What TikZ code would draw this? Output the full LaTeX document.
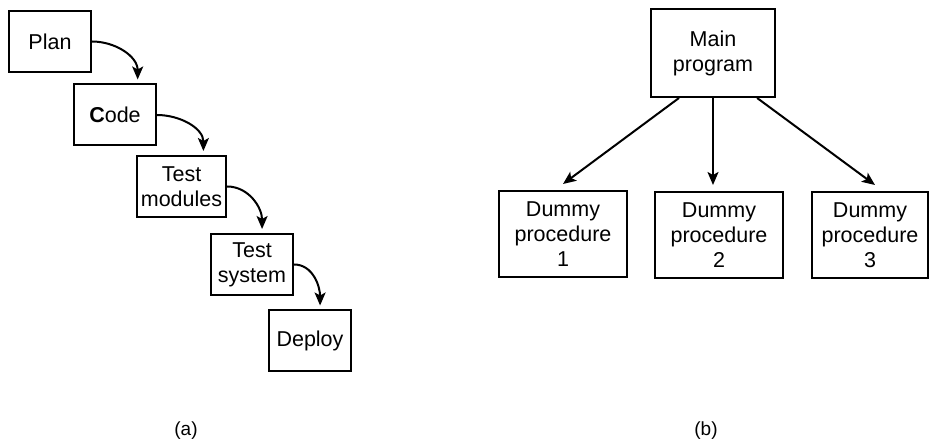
\documentclass[tikz,border=0pt]{standalone}
\usepackage{fontspec}
\setmainfont{Liberation Sans}
\usetikzlibrary{arrows.meta, positioning, calc}

\begin{document}
\begin{tikzpicture}[x=0.5pt,y=0.5pt,
    box/.style={draw, line width=1pt, align=center, inner sep=2pt,
        font=\fontsize{10.75}{12.5}\selectfont},
    stage/.style={box, minimum width=41pt, minimum height=30.5pt},
    dummy/.style={box, minimum width=64pt, minimum height=43pt},
    flow/.style={line width=1pt, -{Stealth[length=6.5pt,width=5.5pt,inset=1.5pt]}},
    tag/.style={font=\fontsize{9.5}{11}\selectfont}]
\useasboundingbox (0,0) rectangle (930,-442);
% (a) waterfall stages
\node[stage] (plan) at (50,-41.5) {Plan};
\node[stage] (code) at (115,-115) {\textbf{C}ode};
\node[stage] (tmod) at (181.5,-186.5) {Test\\modules};
\node[stage] (tsys) at (252,-264.5) {Test\\system};
\node[stage] (deploy) at (310,-341) {Deploy};
\foreach \a/\b/\f in {plan/code/0.77, code/tmod/0.74, tmod/tsys/0.62, tsys/deploy/0.62} {
    \draw[flow] (\a.east) to[out=0,in=90] ($(\b.north west)!\f!(\b.north east)+(0,2pt)$);
}
\node[tag] (taga) at (186,-431) {(a)};
% (b) main program and dummies
\node[box, minimum width=62pt, minimum height=44pt] (main) at (713,-53) {Main\\program};
\node[dummy] (d1) at (563,-234) {Dummy\\procedure\\1};
\node[dummy] (d2) at (719,-235) {Dummy\\procedure\\2};
\node[dummy, minimum width=58pt] (d3) at (870,-235) {Dummy\\procedure\\3};
\draw[flow] ($(main.south west)!0.23!(main.south east)$) -- ([yshift=3pt]d1.north);
\draw[flow] (main.south) -- ([yshift=3pt]main.south |- d2.north);
\draw[flow] ($(main.south west)!0.85!(main.south east)$) -- ([xshift=2.5pt,yshift=3pt]d3.north);
\node[tag] (tagb) at (706,-431) {(b)};
\end{tikzpicture}
\end{document}
